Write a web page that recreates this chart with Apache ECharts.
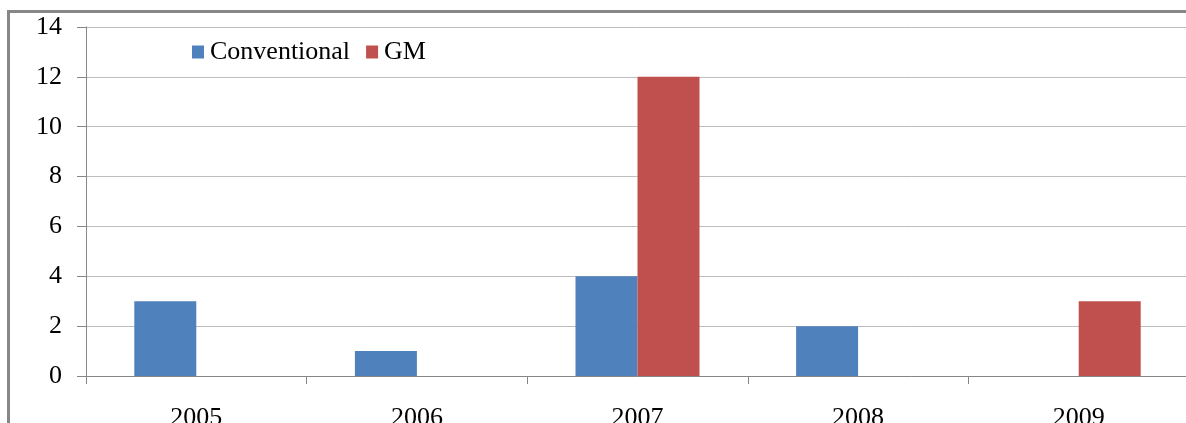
<!DOCTYPE html>
<html>
<head>
<meta charset="utf-8">
<style>
  html, body { margin: 0; padding: 0; background: #fff; }
  #chart { width: 1186px; height: 423px; }
</style>
<script src="https://cdn.jsdelivr.net/npm/echarts@6/dist/echarts.min.js"></script>
</head>
<body>
<div id="chart"></div>
<script>
// data
var years = ['2005', '2006', '2007', '2008', '2009'];
var conventional = [3, 1, 4, 2, 0];
var gm = [0, 0, 12, 0, 3];

var serif = "'Liberation Serif', 'Times New Roman', serif";
var chart = echarts.init(document.getElementById('chart'));

chart.setOption({
  animation: false,
  backgroundColor: '#fff',
  textStyle: { fontFamily: serif },
  // outer frame of the pasted chart
  graphic: [{
    type: 'rect',
    shape: { x: 8.5, y: 11.5, width: 1300, height: 600 },
    style: { fill: 'none', stroke: '#878787', lineWidth: 3 },
    silent: true
  }],
  legend: {
    left: 187,
    top: 34,
    itemWidth: 12,
    itemHeight: 13,
    itemGap: 16,
    icon: 'rect',
    textStyle: { fontFamily: serif, fontSize: 26, color: '#000', padding: [0, 0, 0, 1] },
    data: ['Conventional', 'GM']
  },
  grid: { left: 86, right: -3, top: 27, bottom: 47, containLabel: false, outerBoundsMode: 'none' },
  xAxis: {
    type: 'category',
    data: years,
    axisLine: { lineStyle: { color: '#868686', width: 1 } },
    axisTick: { show: true, length: 8, lineStyle: { color: '#868686' } },
    axisLabel: { color: '#000', fontFamily: serif, fontSize: 26, margin: 29 },
    splitLine: { show: false }
  },
  yAxis: {
    type: 'value',
    min: 0,
    max: 14,
    interval: 2,
    axisLine: { show: true, lineStyle: { color: '#868686', width: 1 } },
    axisTick: { show: true, length: 9, lineStyle: { color: '#868686' } },
    axisLabel: { color: '#000', fontFamily: serif, fontSize: 26, margin: 24 },
    splitLine: { lineStyle: { color: '#bdbdbd', width: 1 } }
  },
  series: [{
    name: 'Conventional',
    type: 'bar',
    data: conventional,
    barWidth: 62,
    barGap: '0%',
    itemStyle: { color: '#4f81bd' }
  }, {
    name: 'GM',
    type: 'bar',
    data: gm,
    barWidth: 62,
    barGap: '0%',
    itemStyle: { color: '#c0504d' }
  }]
});
</script>
</body>
</html>
